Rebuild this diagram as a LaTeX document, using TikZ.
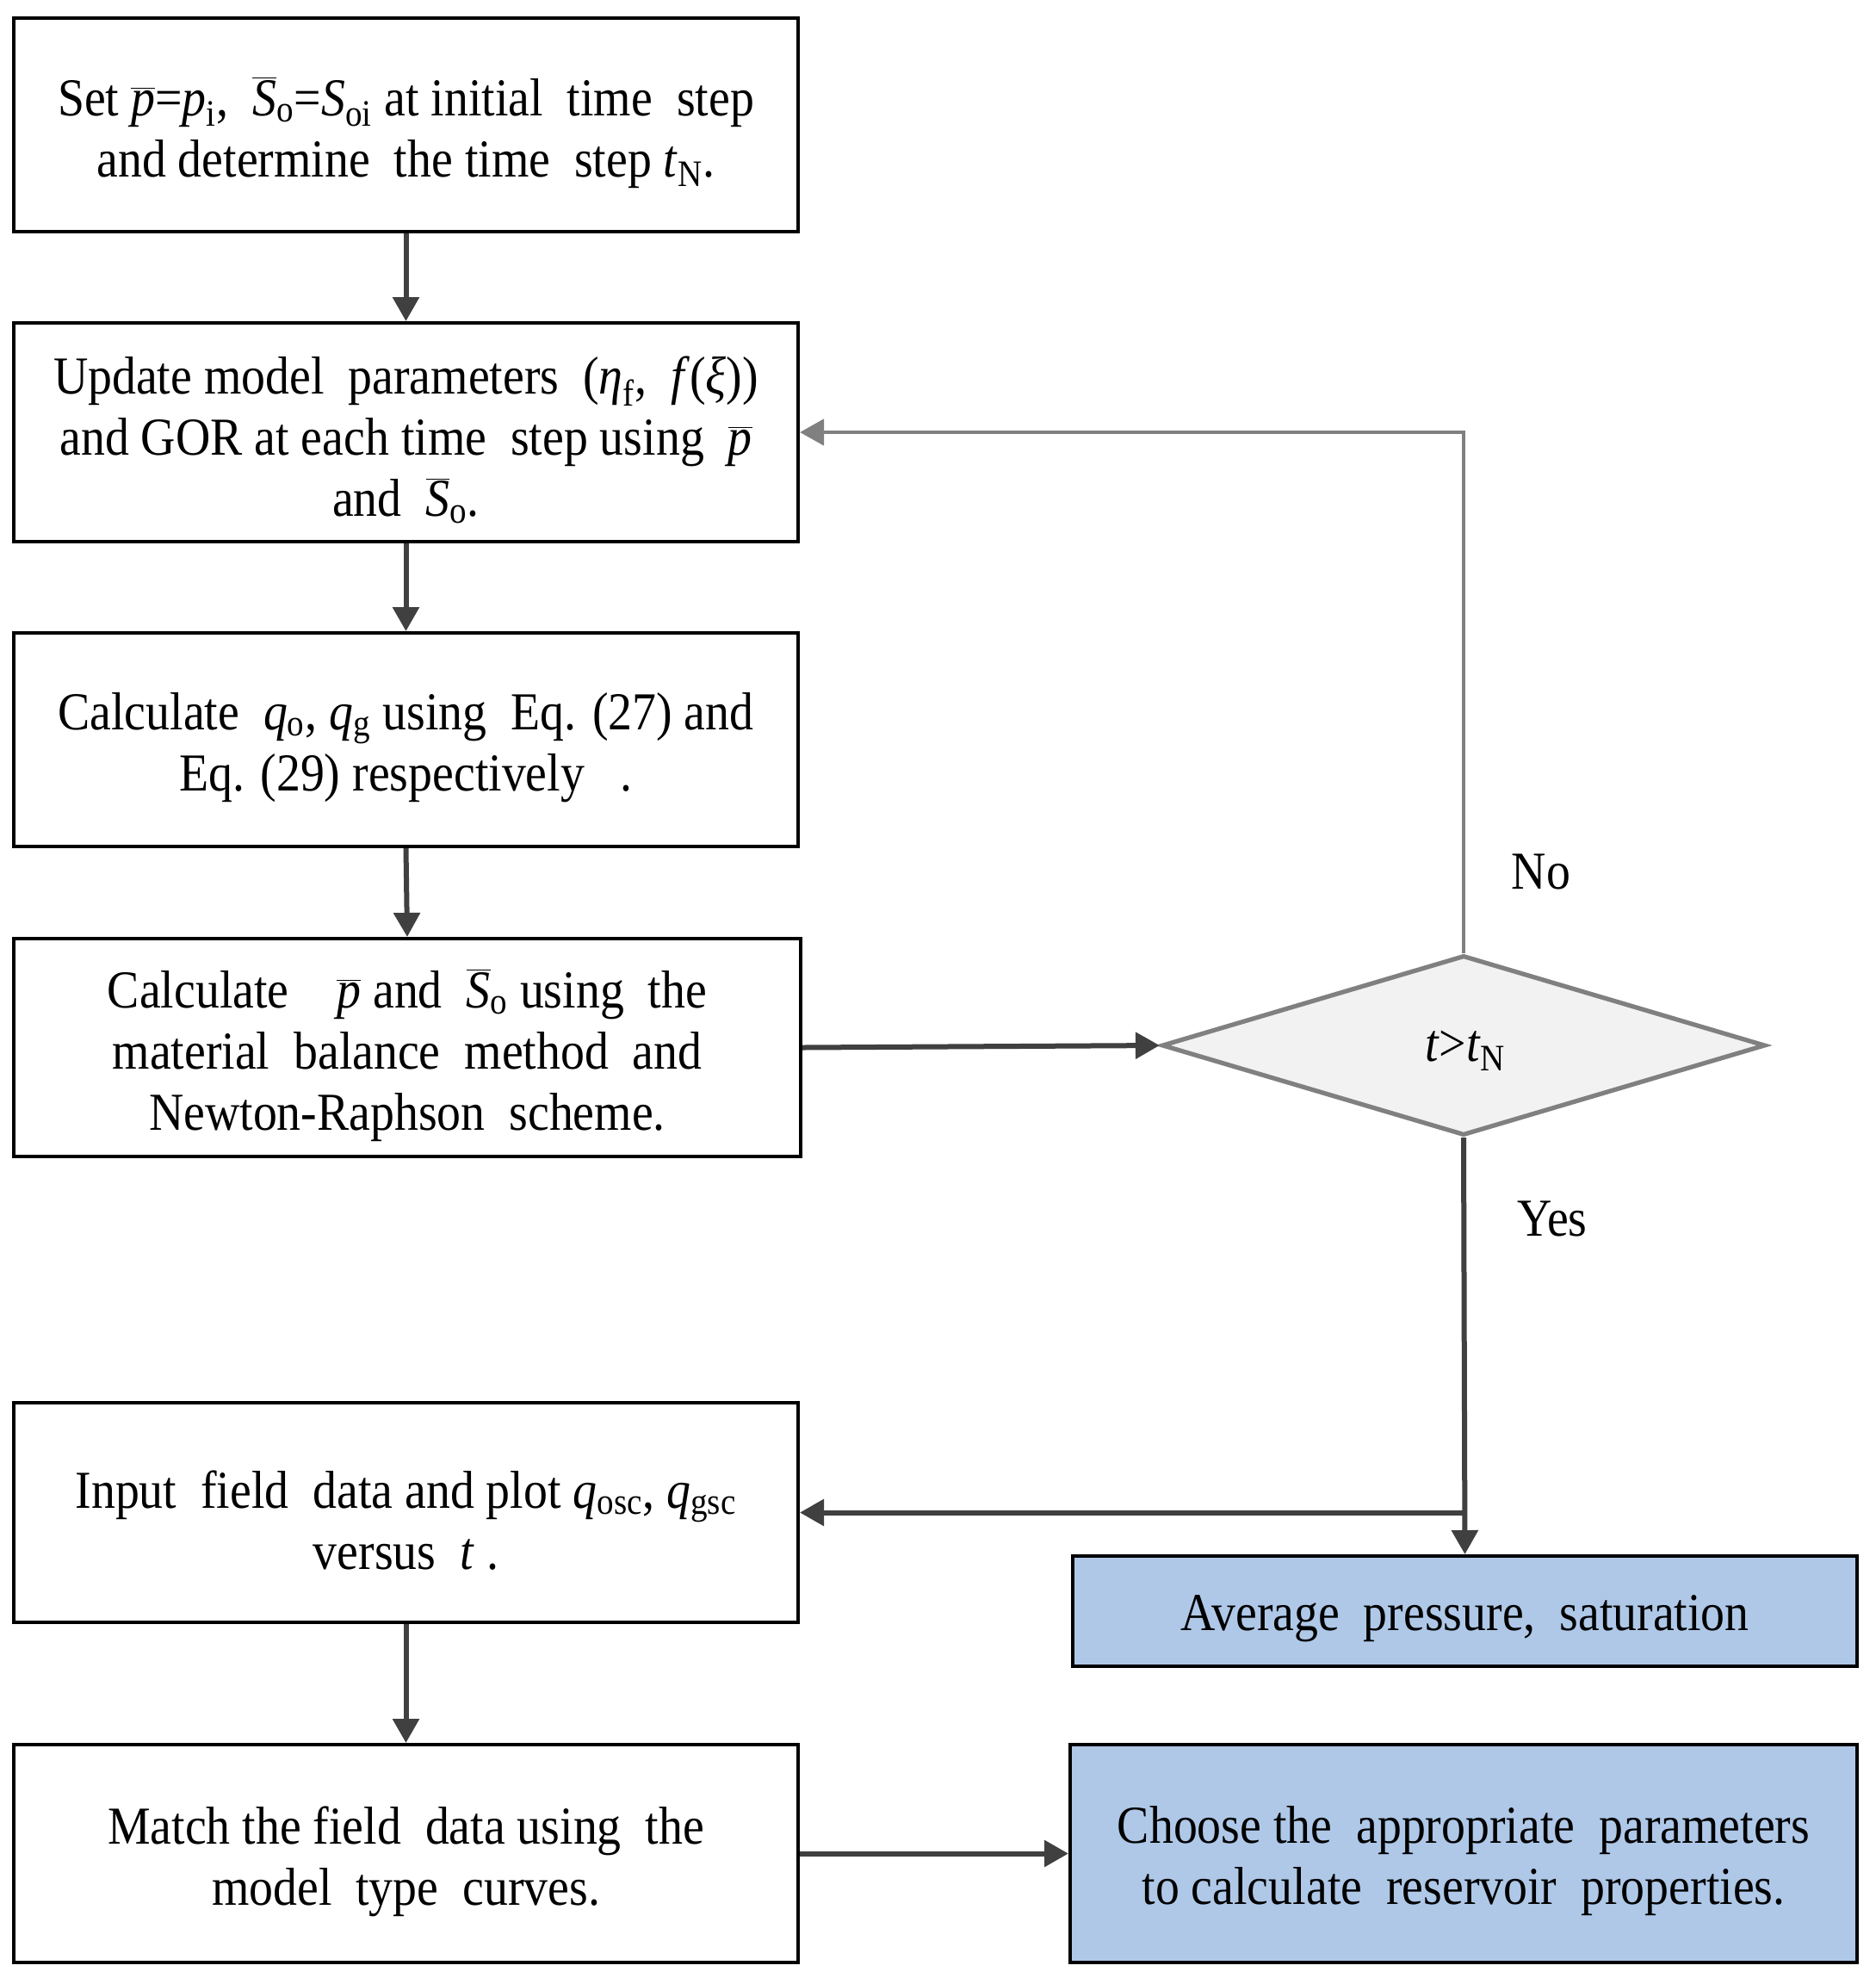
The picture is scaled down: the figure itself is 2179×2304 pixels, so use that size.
\documentclass[tikz,border=0pt]{standalone}
\usepackage{fontspec}
\setmainfont{Liberation Serif}[FakeStretch=0.9]
\usetikzlibrary{shapes.geometric,arrows.meta}
\definecolor{arrowgray}{RGB}{64,64,64}
\definecolor{loopgray}{RGB}{128,128,128}
\definecolor{boxblue}{RGB}{175,200,232}
\definecolor{diafill}{RGB}{242,242,242}
\newcommand{\ivar}[1]{\textit{#1}}
\newcommand{\sbs}[1]{\textsubscript{#1}}
\newcommand{\barit}[1]{$\overline{\mbox{\textit{#1}}}$}
\begin{document}
\begin{tikzpicture}[x=0.5pt,y=-0.5pt,
  every node/.style={font=\fontsize{31}{35.5}\selectfont},
  stepbox/.style={draw=black, line width=2pt, fill=white, inner sep=0pt, minimum width=455.5pt, minimum height=124pt},
  bluebox/.style={stepbox, fill=boxblue},
  txt/.style={align=center, inner sep=0pt, yshift=-4.5pt},
  flow/.style={draw=arrowgray, line width=3pt, -{Triangle[length=14pt,width=15pt]}},
  loopflow/.style={draw=loopgray, line width=2.3pt, -{Triangle[length=14pt,width=15pt]}},
  decision/.style={diamond, draw=loopgray, line width=2.6pt, fill=diafill, aspect=3.35, inner sep=0pt, minimum width=350.5pt, minimum height=104.5pt}]
\useasboundingbox (0,0) rectangle (2179,2304);
\fill[white] (0,0) rectangle (2179,2304);

\node[stepbox] (b1) at (471.5,145) {};
\node[txt] (t1) at (b1.center) {Set \barit{p}=\ivar{p}\sbs{i}, \ \barit{S}\sbs{o}=\ivar{S}\sbs{oi} at initial\ \ time\ \ step\\and determine\ \ the time\ \ step \ivar{t}\sbs{N}.};
\node[stepbox, minimum height=127pt] (b2) at (471.5,502) {};
\node[txt] (t2) at (b2.center) {Update model\ \ parameters\ \ (\ivar{η}\sbs{f},\ \ \ivar{f}(\ivar{ξ}))\\and GOR at each time\ \ step using\ \ \barit{p}\\and\ \ \barit{S}\sbs{o}.};
\node[stepbox] (b3) at (471.5,859) {};
\node[txt] (t3) at (b3.center) {Calculate\ \ \ivar{q}\sbs{o}, \ivar{q}\sbs{g} using\ \ Eq. (27) and\\Eq. (29) respectively\ \ \ .};
\node[stepbox, minimum width=457pt, minimum height=126.5pt] (b4) at (473,1216.5) {};
\node[txt] (t4) at (b4.center) {Calculate\ \ \ \ \barit{p} and\ \ \barit{S}\sbs{o} using\ \ the\\material\ \ balance\ \ method\ \ and\\Newton-Raphson\ \ scheme.};
\node[decision] (d) at (1700,1214) {};
\node (td) at (1702,1220) {\ivar{t}>\ivar{t}\sbs{N}};
\node[stepbox, minimum height=127.5pt] (b5) at (471.5,1756.5) {};
\node[txt] (t5) at (b5.center) {Input\ \ field\ \ data and plot \ivar{q}\sbs{osc}, \ivar{q}\sbs{gsc}\\versus\ \ \ivar{t} .};
\node[bluebox, minimum height=64pt] (avg) at (1701.5,1871) {};
\node[txt] (tavg) at (avg.center) {Average\ \ pressure,\ \ saturation};
\node[stepbox, minimum height=126.5pt] (b6) at (471.5,2152.5) {};
\node[txt] (t6) at (b6.center) {Match the field\ \ data using\ \ the\\model\ \ type\ \ curves.};
\node[bluebox, minimum width=457pt, minimum height=126.5pt] (ch) at (1700,2152.5) {};
\node[txt] (tch) at (ch.center) {Choose the\ \ appropriate\ \ parameters\\to calculate\ \ reservoir\ \ properties.};

\node (no) at (1790,1012) {No};
\node (yes) at (1803,1415) {Yes};

\coordinate (fb) at (d.north |- b2.east);
\coordinate (br) at (d.south |- b5.east);

\draw[flow] (b1.south) -- (b2.north);
\draw[flow] (b2.south) -- (b3.north);
\draw[flow] (b3.south) -- (b4.north);
\draw[flow] (b4.east) -- (d.west);
\draw[loopflow] (d.north) -- (fb) -- (b2.east);
\draw[flow] (d.south) -- (avg.north);
\draw[flow] (br) -- (b5.east);
\draw[flow] (b5.south) -- (b6.north);
\draw[flow] (b6.east) -- (ch.west);
\end{tikzpicture}
\end{document}
